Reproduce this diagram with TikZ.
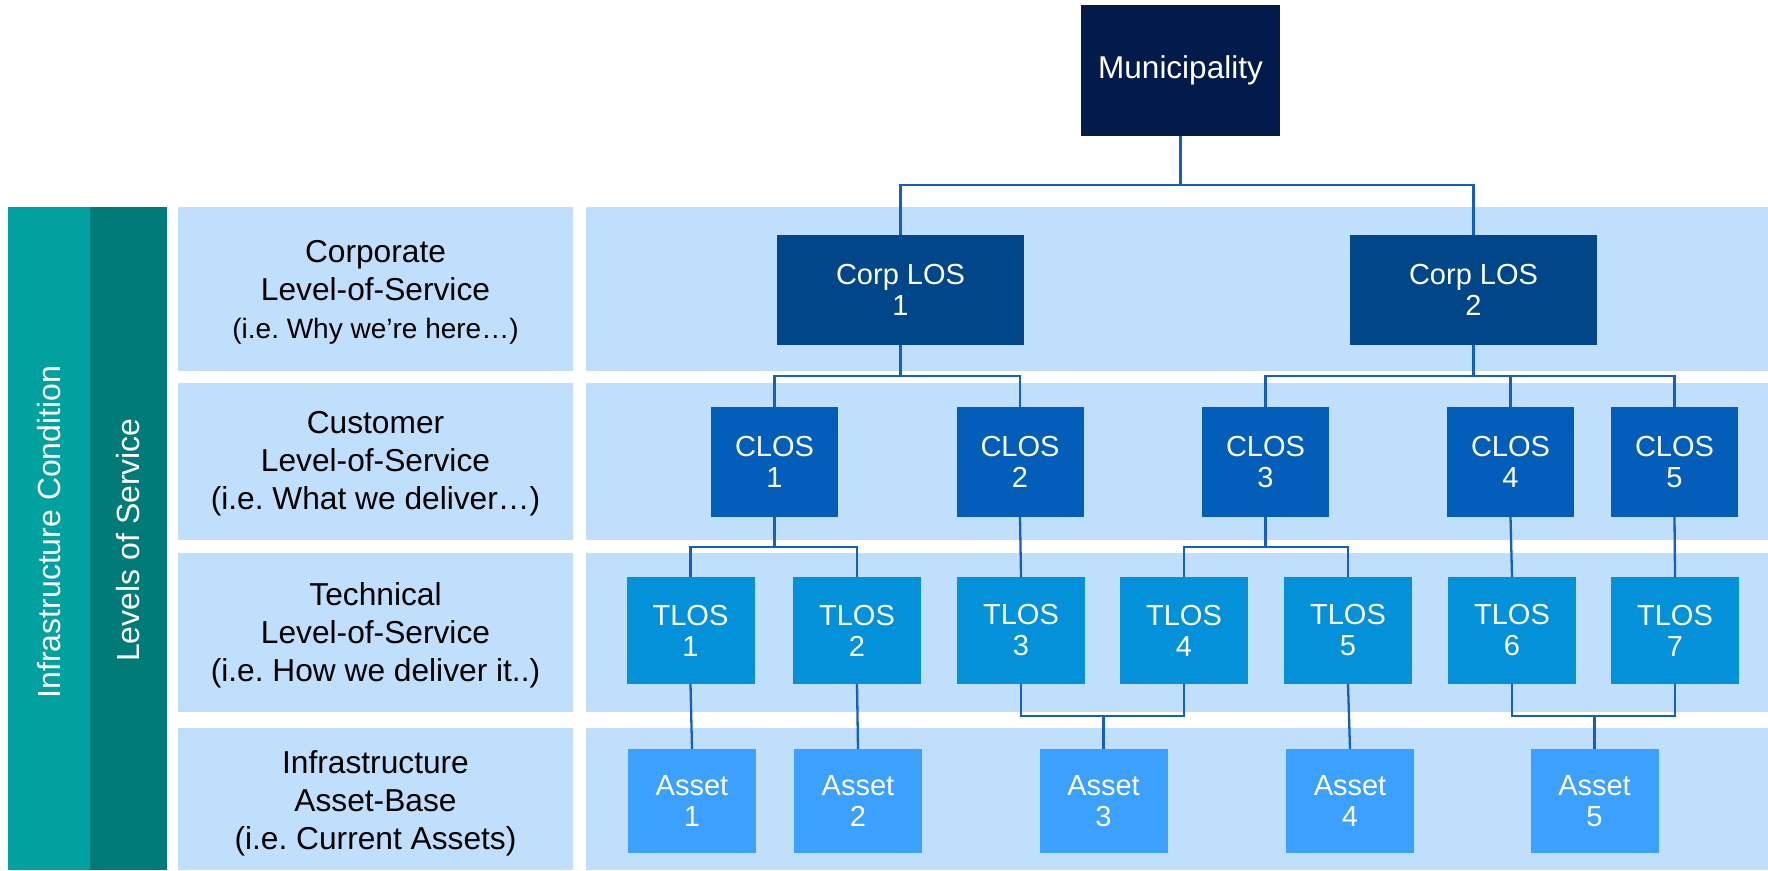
\documentclass[tikz,border=0pt]{standalone}
\usepackage{fontspec}
\setmainfont{Liberation Sans}
\frenchspacing
\definecolor{tealA}{HTML}{00A19E}
\definecolor{tealB}{HTML}{007B77}
\definecolor{bandc}{HTML}{BFDFFC}
\definecolor{munc}{HTML}{031B4B}
\definecolor{corpc}{HTML}{02468A}
\definecolor{closc}{HTML}{025EB8}
\definecolor{tlosc}{HTML}{0391D9}
\definecolor{assetc}{HTML}{3CA0FF}
\definecolor{linec}{HTML}{1560BD}
\begin{document}
\frenchspacing
\begin{tikzpicture}[x=1pt,y=-1pt,
  box/.style={inner sep=0pt, outer sep=0pt, text=white, align=center, font=\fontsize{29}{31}\selectfont},
  munbox/.style={box, fill=munc, minimum width=199pt, minimum height=131pt, font=\fontsize{31.5}{34}\selectfont},
  corpbox/.style={box, fill=corpc, minimum width=247pt, minimum height=110pt},
  closbox/.style={box, fill=closc, minimum width=127pt, minimum height=110pt},
  tlosbox/.style={box, fill=tlosc, minimum width=128pt, minimum height=107pt},
  assetbox/.style={box, fill=assetc, minimum width=128pt, minimum height=104pt},
  lab/.style={inner sep=0pt, align=center, text=black, font=\fontsize{31.7}{38}\selectfont},
  sidetext/.style={inner sep=0pt, text=white, rotate=90, font=\fontsize{32}{36}\selectfont},
  conn/.style={draw=linec, line width=2.3pt}
]
\useasboundingbox (0,0) rectangle (1768,870);
% side bands
\fill[tealA] (8,207) rectangle (90,870);
\fill[tealB] (90,207) rectangle (167,870);
\node[sidetext] (ic) at (49,532) {Infrastructure Condition};
\node[sidetext] (los) at (128.5,540) {Levels of Service};
% row bands
\foreach \ya/\yb in {207/371, 383/540, 553/712, 728/870}{
  \fill[bandc] (178,\ya) rectangle (573,\yb);
  \fill[bandc] (586,\ya) rectangle (1768,\yb);
}
% row labels
\node[lab] (l1) at (375.5,292) {Corporate\\Level-of-Service\\\fontsize{28}{34}\selectfont (i.e. Why we’re here…)};
\node[lab] (l2) at (375.5,464) {Customer\\Level-of-Service\\(i.e. What we deliver…)};
\node[lab] (l3) at (375.5,635) {Technical\\Level-of-Service\\(i.e. How we deliver it..)};
\node[lab] (l4) at (375.5,803) {Infrastructure\\Asset-Base\\(i.e. Current Assets)};
% boxes
\node[munbox] (mun) at (1180.5,70.5) {Municipality};
\node[corpbox] (cp1) at (900.5,290) {Corp LOS\\1};
\node[corpbox] (cp2) at (1473.5,290) {Corp LOS\\2};
\node[closbox] (c1) at (774.5,462) {CLOS\\1};
\node[closbox] (c2) at (1020,462) {CLOS\\2};
\node[closbox] (c3) at (1265.5,462) {CLOS\\3};
\node[closbox] (c4) at (1510.5,462) {CLOS\\4};
\node[closbox] (c5) at (1674.5,462) {CLOS\\5};
\node[tlosbox] (t1) at (690.5,630.5) {TLOS\\1};
\node[tlosbox] (t2) at (857,630.5) {TLOS\\2};
\node[tlosbox] (t3) at (1021,630.5) {TLOS\\3};
\node[tlosbox] (t4) at (1184,630.5) {TLOS\\4};
\node[tlosbox] (t5) at (1348,630.5) {TLOS\\5};
\node[tlosbox] (t6) at (1512,630.5) {TLOS\\6};
\node[tlosbox] (t7) at (1675,630.5) {TLOS\\7};
\node[assetbox] (a1) at (692,801) {Asset\\1};
\node[assetbox] (a2) at (858,801) {Asset\\2};
\node[assetbox] (a3) at (1103.5,801) {Asset\\3};
\node[assetbox] (a4) at (1350,801) {Asset\\4};
\node[assetbox] (a5) at (1594.5,801) {Asset\\5};
% bus junctions
\coordinate (b0) at (1180.5,185);
\coordinate (b1) at (900.5,376);
\coordinate (b2) at (1473.5,376);
\coordinate (b3) at (774.5,547);
\coordinate (b4) at (1265.5,547);
\coordinate (b5) at (1103.5,716);
\coordinate (b6) at (1594.5,716);
% connectors
\draw[conn] (mun.south) -- (b0);
\draw[conn] (b0) -| (cp1.north);
\draw[conn] (b0) -| (cp2.north);
\draw[conn] (cp1.south) -- (b1);
\draw[conn] (b1) -| (c1.north);
\draw[conn] (b1) -| (c2.north);
\draw[conn] (cp2.south) -- (b2);
\draw[conn] (b2) -| (c3.north);
\draw[conn] (b2) -| (c4.north);
\draw[conn] (b2) -| (c5.north);
\draw[conn] (c1.south) -- (b3);
\draw[conn] (b3) -| (t1.north);
\draw[conn] (b3) -| (t2.north);
\draw[conn] (c2.south) -- (t3.north);
\draw[conn] (c3.south) -- (b4);
\draw[conn] (b4) -| (t4.north);
\draw[conn] (b4) -| (t5.north);
\draw[conn] (c4.south) -- (t6.north);
\draw[conn] (c5.south) -- (t7.north);
\draw[conn] (t1.south) -- (a1.north);
\draw[conn] (t2.south) -- (a2.north);
\draw[conn] (t3.south) |- (b5);
\draw[conn] (t4.south) |- (b5);
\draw[conn] (b5) -- (a3.north);
\draw[conn] (t5.south) -- (a4.north);
\draw[conn] (t6.south) |- (b6);
\draw[conn] (t7.south) |- (b6);
\draw[conn] (b6) -- (a5.north);
\end{tikzpicture}
\end{document}
